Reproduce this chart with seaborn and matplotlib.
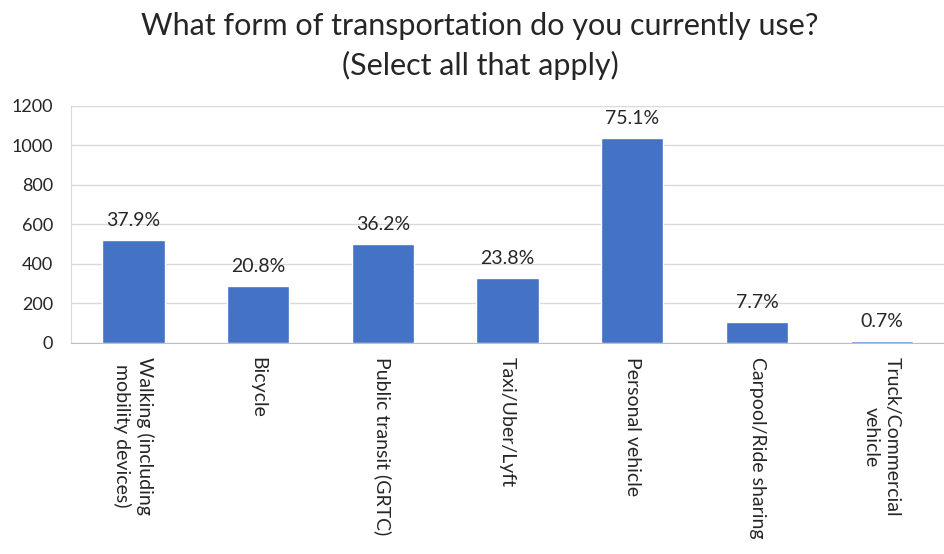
import matplotlib
matplotlib.use("Agg")
import matplotlib.pyplot as plt
import seaborn as sns
import pandas as pd

# Survey responses: number of respondents per transportation mode
modes = [
    "Walking (including\nmobility devices)",
    "Bicycle",
    "Public transit (GRTC)",
    "Taxi/Uber/Lyft",
    "Personal vehicle",
    "Carpool/Ride sharing",
    "Truck/Commercial\nvehicle",
]
counts = [522, 287, 499, 328, 1036, 106, 10]
percent_labels = ["37.9%", "20.8%", "36.2%", "23.8%", "75.1%", "7.7%", "0.7%"]
y_ticks = [0, 200, 400, 600, 800, 1000, 1200]

bar_color = "#4472C4"
grid_color = "#D9D9D9"
axis_color = "#BFBFBF"

sns.set_style("white")
plt.rcParams["font.family"] = ["Lato", "DejaVu Sans"]

df = pd.DataFrame({"mode": modes, "count": counts})

fig = plt.figure(figsize=(9.45, 5.54), dpi=100)
ax = fig.add_axes([0.0751, 0.381, 0.924, 0.428])

sns.barplot(data=df, x="mode", y="count", color=bar_color, width=0.5,
            saturation=1, ax=ax, zorder=3)

ax.set_ylim(0, 1200)
ax.set_xlim(-0.5, len(modes) - 0.5)
ax.set_yticks(y_ticks)
ax.set_yticklabels([str(v) for v in y_ticks], fontsize=13)
ax.yaxis.grid(True, color=grid_color, linewidth=1, zorder=0)
ax.set_axisbelow(True)

# Category labels rotated, tick marks sit between categories
ax.set_xticks(range(len(modes)))
ax.set_xticklabels(modes, rotation=-90, ha="center", va="top",
                   multialignment="center", fontsize=14, linespacing=1.3)
ax.tick_params(axis="x", which="major", length=0, pad=10)
ax.set_xticks([i - 0.5 for i in range(len(modes) + 1)], minor=True)
ax.tick_params(axis="x", which="minor", length=6, color=axis_color, width=1)
ax.tick_params(axis="y", length=7, color=grid_color, width=1, pad=6)

for side in ["top", "right"]:
    ax.spines[side].set_visible(False)
ax.spines["left"].set_color(grid_color)
ax.spines["bottom"].set_color(axis_color)
ax.set_xlabel("")
ax.set_ylabel("")

for patch, label in zip(ax.patches, percent_labels):
    ax.annotate(label, (patch.get_x() + patch.get_width() / 2, patch.get_height()),
                xytext=(0, 8), textcoords="offset points",
                ha="center", va="bottom", fontsize=14)

fig.text(0.508, 0.978,
         "What form of transportation do you currently use?\n(Select all that apply)",
         ha="center", va="top", fontsize=22, linespacing=1.45)

fig.savefig("out.png", dpi=100)
